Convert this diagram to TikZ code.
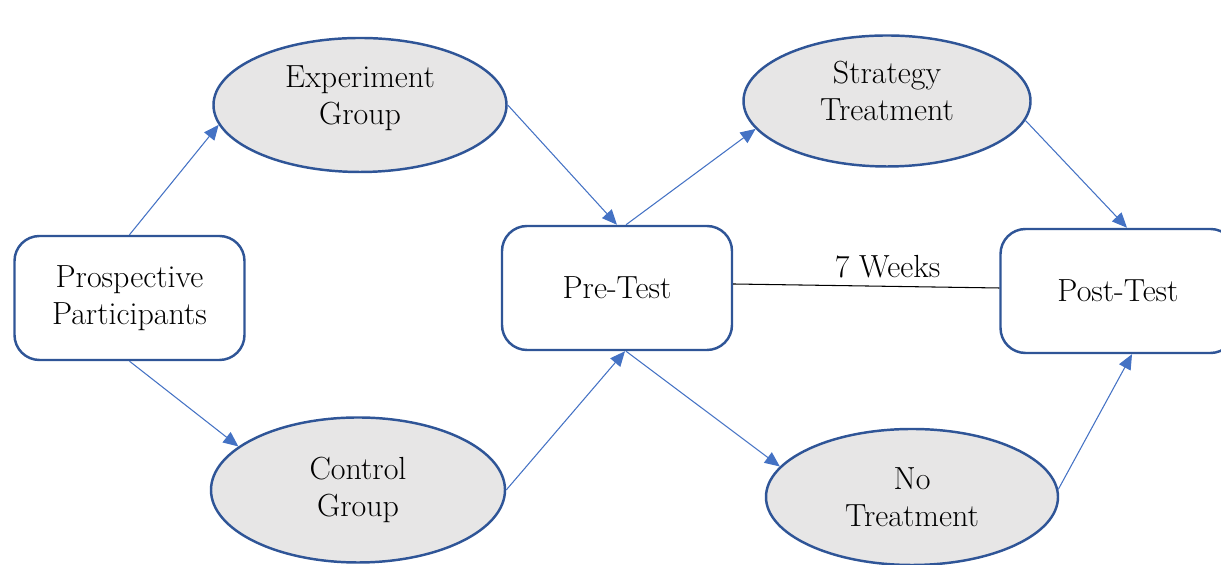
\documentclass[tikz,border=0pt]{standalone}
\usetikzlibrary{shapes.geometric,arrows.meta}
\definecolor{edgeblue}{RGB}{47,85,151}
\definecolor{arrowblue}{RGB}{68,114,196}
\definecolor{ovalgray}{RGB}{231,230,230}
\tikzset{
 box/.style={draw=edgeblue,line width=1.4pt,fill=white,rounded corners=0.5cm,minimum width=4.6cm,minimum height=2.48cm,align=center,font=\fontsize{18.2}{21.3}\selectfont},
 oval/.style={ellipse,draw=edgeblue,line width=1.4pt,fill=ovalgray,inner sep=0pt,align=center,font=\fontsize{18.2}{21.3}\selectfont},
 flow/.style={draw=arrowblue,line width=0.6pt,-{Triangle[length=0.3cm,width=0.26cm]}}
}
\begin{document}
\begin{tikzpicture}
 \useasboundingbox (0,0) rectangle (24.42,11.30);

 % boxes
 \node[box] (pp) at (2.59,5.34) {Prospective\\Participants};
 \node[box] (pre) at (12.34,5.54) {Pre-Test};
 \node[box,minimum width=4.7cm] (post) at (22.36,5.48) {Post-Test};

 % groups and treatments
 \node[oval,minimum width=5.86cm,minimum height=2.68cm,text depth=0.4cm] (exp) at (7.20,9.20) {Experiment\\Group};
 \node[oval,minimum width=5.88cm,minimum height=2.9cm] (ctrl) at (7.16,1.50) {Control\\Group};
 \node[oval,minimum width=5.74cm,minimum height=2.62cm,text depth=0.4cm] (strat) at (17.74,9.28) {Strategy\\Treatment};
 \node[oval,minimum width=5.84cm,minimum height=2.72cm] (notr) at (18.24,1.36) {No\\Treatment};

 % connectors
 \draw[flow] (pp.north) -- (exp.188);
 \draw[flow] (pp.south) -- (ctrl.160);
 \draw[flow] (exp.east) -- (pre.north);
 \draw[flow] (ctrl.east) -- ([xshift=0.16cm]pre.south);
 \draw[flow] ([xshift=0.18cm]pre.north) -- (strat.192);
 \draw[flow] ([xshift=0.18cm]pre.south) -- (notr.167);
 \draw[flow] (strat.-8) -- ([xshift=0.18cm]post.north);
 \draw[flow] (notr.3) -- ([xshift=0.28cm]post.south);
 \draw[line width=0.6pt] ([yshift=0.08cm]pre.east) -- node[pos=0.58,above=1pt,font=\fontsize{18.2}{21.3}\selectfont] (weeks) {7 Weeks} ([yshift=0.06cm]post.west);
\end{tikzpicture}
\end{document}
